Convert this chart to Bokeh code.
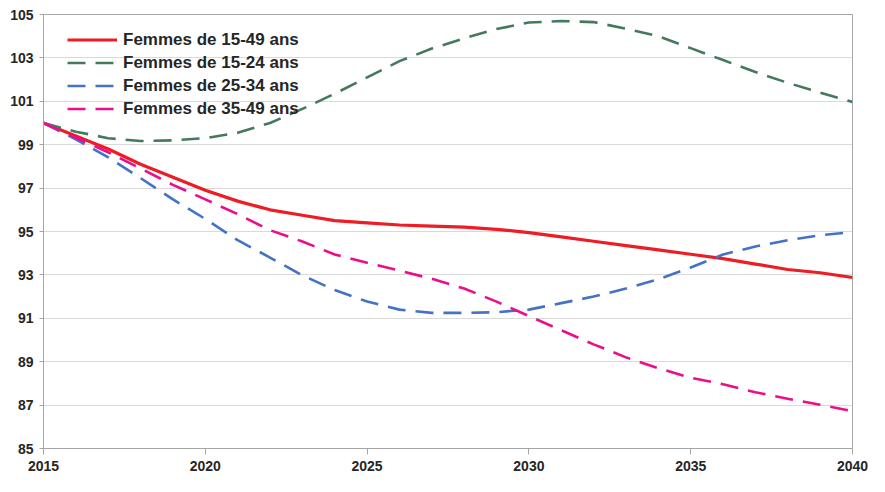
from bokeh.plotting import figure
from bokeh.models import Legend, LegendItem, FixedTicker, Range1d
from bokeh.embed import file_html
from bokeh.resources import INLINE

years = list(range(2015, 2041))
f15_49 = [100.0, 99.4, 98.8, 98.1, 97.5, 96.9, 96.4, 96.0, 95.75, 95.5, 95.4, 95.3, 95.25, 95.2, 95.1,
          94.95, 94.75, 94.55, 94.35, 94.15, 93.95, 93.75, 93.5, 93.25, 93.1, 92.88]
f15_24 = [100.0, 99.6, 99.3, 99.17, 99.2, 99.3, 99.55, 100.0, 100.65, 101.35, 102.1, 102.85, 103.43, 103.9, 104.33,
          104.63, 104.7, 104.65, 104.35, 104.0, 103.45, 102.9, 102.35, 101.85, 101.4, 100.97]
f25_34 = [100.0, 99.25, 98.42, 97.46, 96.48, 95.58, 94.6, 93.8, 92.98, 92.3, 91.77, 91.4, 91.25, 91.25, 91.28,
          91.4, 91.7, 92.0, 92.37, 92.8, 93.34, 93.94, 94.31, 94.6, 94.83, 94.97]
f35_49 = [100.0, 99.32, 98.65, 97.9, 97.15, 96.48, 95.8, 95.06, 94.54, 93.94, 93.56, 93.2, 92.82, 92.37, 91.77,
          91.1, 90.45, 89.8, 89.2, 88.7, 88.26, 87.96, 87.59, 87.29, 87.02, 86.72]
labels = ["Femmes de 15-49 ans", "Femmes de 15-24 ans", "Femmes de 25-34 ans", "Femmes de 35-49 ans"]
x_ticks = [2015, 2020, 2025, 2030, 2035, 2040]
y_ticks = list(range(85, 106, 2))

FONT = "Liberation Sans"

p = figure(width=869, height=476, output_backend="svg", toolbar_location=None,
           x_range=Range1d(2015, 2040), y_range=Range1d(85, 105),
           min_border_left=43, min_border_right=17, min_border_top=14, min_border_bottom=28)
p.background_fill_color = "white"
p.border_fill_color = "white"
p.outline_line_color = "#a6a6a6"
p.outline_line_width = 1

p.xgrid.grid_line_color = None
p.ygrid.grid_line_color = "#d9d9d9"
p.ygrid.grid_line_width = 1

p.xaxis.ticker = FixedTicker(ticks=x_ticks)
p.yaxis.ticker = FixedTicker(ticks=y_ticks)
p.xaxis.minor_tick_line_color = None
p.yaxis.minor_tick_line_color = None
for ax in (p.xaxis, p.yaxis):
    ax.axis_line_color = "#a6a6a6"
    ax.major_tick_line_color = "#a6a6a6"
    ax.major_tick_in = 0
    ax.major_label_text_font = FONT
    ax.major_label_text_font_style = "bold"
    ax.major_label_text_font_size = "14px"
    ax.major_label_text_color = "#262626"
p.xaxis.major_tick_out = 6
p.yaxis.major_tick_out = 4
p.xaxis.major_label_standoff = 6
p.yaxis.major_label_standoff = 6

r1 = p.line(years, f15_49, line_color="#ee1c25", line_width=3.2)
r2 = p.line(years, f15_24, line_color="#437a5c", line_width=2.6, line_dash="18 10")
r3 = p.line(years, f25_34, line_color="#4472c4", line_width=2.6, line_dash="18 10")
r4 = p.line(years, f35_49, line_color="#ec0d8c", line_width=2.6, line_dash="18 10")

legend = Legend(items=[LegendItem(label=labels[0], renderers=[r1]),
                       LegendItem(label=labels[1], renderers=[r2]),
                       LegendItem(label=labels[2], renderers=[r3]),
                       LegendItem(label=labels[3], renderers=[r4])],
                location=(24, 328), orientation="vertical")
legend.border_line_color = None
legend.background_fill_alpha = 0
legend.padding = 0
legend.margin = 0
legend.spacing = 0
legend.label_height = 23
legend.glyph_height = 23
legend.glyph_width = 50
legend.label_standoff = 6
legend.label_text_font = FONT
legend.label_text_font_style = "bold"
legend.label_text_font_size = "17px"
legend.label_text_color = "#262626"
p.add_layout(legend, "center")

open("out.html", "w").write(file_html(p, INLINE))
